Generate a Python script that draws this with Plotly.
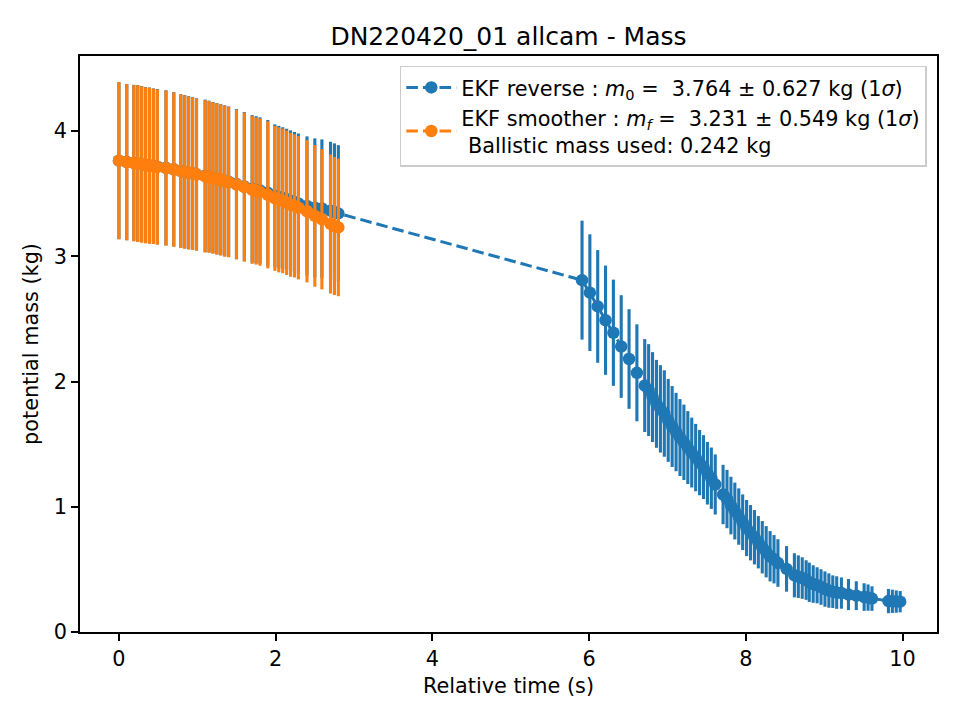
import plotly.graph_objects as go

# ---- data ----
t_early = [0.00, 0.10, 0.19, 0.24, 0.29, 0.34, 0.39, 0.44, 0.49, 0.60, 0.70, 0.79, 0.84, 0.89,
           0.94, 0.99, 1.10, 1.15, 1.20, 1.25, 1.30, 1.35, 1.40, 1.50, 1.60, 1.70, 1.75, 1.80,
           1.90, 1.99, 2.04, 2.09, 2.14, 2.19, 2.24, 2.29, 2.40, 2.50, 2.59, 2.70, 2.75, 2.80]

m_smooth = [3.764, 3.752, 3.744, 3.740, 3.734, 3.727, 3.724, 3.719, 3.713, 3.705, 3.693, 3.680,
            3.673, 3.666, 3.661, 3.653, 3.640, 3.635, 3.626, 3.618, 3.610, 3.601, 3.594, 3.574,
            3.553, 3.531, 3.521, 3.513, 3.491, 3.463, 3.451, 3.443, 3.428, 3.412, 3.403, 3.388,
            3.360, 3.323, 3.296, 3.259, 3.242, 3.231]
s_smooth = [0.627, 0.624, 0.624, 0.626, 0.624, 0.623, 0.623, 0.620, 0.620, 0.619, 0.616, 0.613,
            0.612, 0.611, 0.610, 0.608, 0.609, 0.606, 0.604, 0.604, 0.603, 0.603, 0.601, 0.599,
            0.596, 0.591, 0.587, 0.588, 0.587, 0.579, 0.579, 0.578, 0.577, 0.575, 0.572, 0.572,
            0.568, 0.566, 0.560, 0.555, 0.551, 0.549]

m_rev_early = [3.764, 3.753, 3.746, 3.742, 3.736, 3.729, 3.726, 3.721, 3.716, 3.707, 3.695, 3.682,
               3.675, 3.668, 3.663, 3.655, 3.643, 3.637, 3.628, 3.620, 3.612, 3.603, 3.596, 3.577,
               3.558, 3.540, 3.532, 3.525, 3.507, 3.484, 3.474, 3.465, 3.455, 3.444, 3.434, 3.423,
               3.402, 3.388, 3.382, 3.365, 3.354, 3.343]
s_rev_early = [0.627, 0.624, 0.624, 0.626, 0.624, 0.623, 0.623, 0.620, 0.620, 0.619, 0.616, 0.613,
               0.612, 0.611, 0.610, 0.608, 0.609, 0.606, 0.604, 0.604, 0.603, 0.603, 0.601, 0.599,
               0.595, 0.588, 0.587, 0.585, 0.582, 0.570, 0.568, 0.566, 0.564, 0.562, 0.560, 0.558,
               0.556, 0.554, 0.552, 0.550, 0.548, 0.545]

t_late = [5.91, 6.01, 6.11, 6.21, 6.31, 6.41, 6.51, 6.61,
          6.71, 6.76, 6.81, 6.86, 6.91, 6.96, 7.01, 7.06, 7.11, 7.16, 7.21, 7.26, 7.31, 7.36,
          7.41, 7.46, 7.51, 7.56, 7.61,
          7.71, 7.76, 7.81, 7.86, 7.91,
          7.96, 8.01, 8.06, 8.11, 8.16, 8.21, 8.26, 8.31, 8.36, 8.41,
          8.52,
          8.62, 8.67, 8.72, 8.77, 8.81, 8.86, 8.91, 8.96, 9.01, 9.06, 9.11, 9.16, 9.22,
          9.31, 9.41,
          9.51, 9.56, 9.61,
          9.82, 9.87, 9.92, 9.97]
m_late = [2.81, 2.71, 2.60, 2.49, 2.39, 2.28, 2.18, 2.07,
          1.968, 1.932, 1.876, 1.822, 1.782, 1.745, 1.690, 1.641, 1.597, 1.553, 1.515, 1.473,
          1.433, 1.393, 1.353, 1.317, 1.268, 1.228, 1.178,
          1.098, 1.062, 1.010, 0.966, 0.922,
          0.877, 0.830, 0.793, 0.757, 0.717, 0.677, 0.641, 0.605, 0.581, 0.551,
          0.504,
          0.453, 0.442, 0.431, 0.415, 0.397, 0.383, 0.373, 0.359, 0.343, 0.331, 0.322, 0.315, 0.311,
          0.299, 0.290,
          0.279, 0.275, 0.267,
          0.247, 0.245, 0.243, 0.242]
s_late = [0.475, 0.466, 0.450, 0.436, 0.424, 0.410, 0.398, 0.387,
          0.371, 0.367, 0.359, 0.351, 0.349, 0.345, 0.331, 0.323, 0.313, 0.307, 0.301, 0.291,
          0.279, 0.269, 0.261, 0.255, 0.250, 0.245, 0.240,
          0.237, 0.233, 0.230, 0.227, 0.225,
          0.222, 0.224, 0.221, 0.217, 0.209, 0.209, 0.205, 0.201, 0.193, 0.190,
          0.182,
          0.176, 0.170, 0.166, 0.158, 0.157, 0.150, 0.144, 0.142, 0.141, 0.137, 0.130, 0.130, 0.125,
          0.124, 0.115,
          0.110, 0.105, 0.098,
          0.097, 0.093, 0.089, 0.085]

name_rev = "EKF reverse : <i>m</i><sub>0</sub> =  3.764 ± 0.627 kg (1<i>σ</i>)"
name_smooth = ("EKF smoother : <i>m<sub>f</sub></i> =  3.231 ± 0.549 kg (1<i>σ</i>)"
               "<br> Ballistic mass used: 0.242 kg")

BLUE = "#1f77b4"
ORANGE = "#ff7f0e"
FONT = "DejaVu Sans"
FS = 20.8

t_rev = t_early + t_late
m_rev = m_rev_early + m_late
s_rev = s_rev_early + s_late

fig = go.Figure()
fig.add_trace(go.Scatter(
    x=t_rev, y=m_rev, mode="lines+markers", name=name_rev,
    line=dict(color=BLUE, width=3, dash="11.6px,5px"),
    marker=dict(size=12.5, color=BLUE),
    error_y=dict(type="data", array=s_rev, width=0, thickness=3.1, color=BLUE),
))
fig.add_trace(go.Scatter(
    x=t_early, y=m_smooth, mode="lines+markers", name=name_smooth,
    line=dict(color=ORANGE, width=3, dash="11.6px,5px"),
    marker=dict(size=12.5, color=ORANGE),
    error_y=dict(type="data", array=s_smooth, width=0, thickness=3.1, color=ORANGE),
))

axis_common = dict(
    showgrid=False, zeroline=False, showline=True, linecolor="black", linewidth=1.6,
    mirror=True, ticks="outside", ticklen=7, tickwidth=1.6, tickcolor="black",
    tickfont=dict(family=FONT, size=FS, color="black"),
)

fig.update_layout(
    width=960, height=720,
    margin=dict(l=80, r=23, t=56, b=88),
    paper_bgcolor="white", plot_bgcolor="white",
    font=dict(family=FONT, size=FS, color="black"),
    title=dict(text="DN220420_01 allcam - Mass", x=0.5, xref="paper", xanchor="center",
               y=1 - 36 / 720, yref="container", yanchor="middle",
               font=dict(family=FONT, size=25, color="black")),
    xaxis=dict(range=[-0.497, 10.44], tickvals=[0, 2, 4, 6, 8, 10],
               title=dict(text="Relative time (s)", standoff=9,
                          font=dict(family=FONT, size=FS, color="black")),
               **axis_common),
    yaxis=dict(range=[0, 4.60], tickvals=[0, 1, 2, 3, 4],
               title=dict(text="potential mass (kg)", standoff=10,
                          font=dict(family=FONT, size=FS, color="black")),
               **axis_common),
    legend=dict(x=0.988, y=0.983, xanchor="right", yanchor="top",
                bgcolor="rgba(255,255,255,0.8)", bordercolor="#cccccc", borderwidth=1.6,
                font=dict(family=FONT, size=FS, color="black"), tracegroupgap=6,
                itemwidth=50),
    showlegend=True,
)

fig.write_html("out.html")
